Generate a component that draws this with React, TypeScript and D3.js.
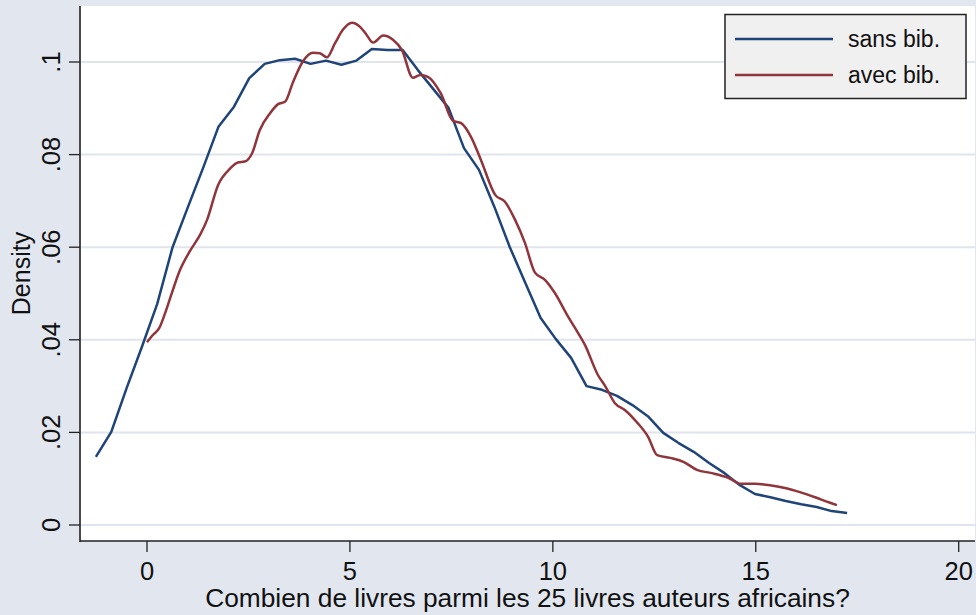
import React, { useEffect, useRef } from 'react';
import * as d3 from 'd3';

// kernel density estimates
const sansX = [-1.26, -0.88, -0.5, -0.12, 0.25, 0.63, 1.01, 1.39, 1.76, 2.14, 2.52, 2.9, 3.27, 3.65, 4.03, 4.41, 4.79,
  5.16, 5.54, 5.92, 6.3, 6.67, 7.05, 7.43, 7.81, 8.18, 8.56, 8.94, 9.32, 9.7, 10.07, 10.45, 10.83, 11.21, 11.58,
  11.96, 12.34, 12.72, 13.1, 13.47, 13.85, 14.23, 14.61, 14.98, 15.36, 15.74, 16.12, 16.5, 16.87, 17.25];
const sansY = [0.0147, 0.0201, 0.0296, 0.0386, 0.0477, 0.06, 0.0687, 0.0773, 0.086, 0.0903, 0.0965, 0.0996, 0.1004,
  0.1007, 0.0996, 0.1003, 0.0994, 0.1003, 0.1028, 0.1026, 0.1026, 0.0983, 0.0942, 0.0901, 0.0814, 0.0767, 0.0687,
  0.06, 0.0523, 0.0447, 0.0402, 0.0361, 0.03, 0.0292, 0.0279, 0.0259, 0.0235, 0.0199, 0.0177, 0.0158, 0.0134,
  0.0112, 0.0086, 0.0067, 0.006, 0.0052, 0.0045, 0.0039, 0.003, 0.0026];

const avecX = [0, 0.15, 0.3, 0.44, 0.62, 0.81, 1.06, 1.31, 1.48, 1.75, 2.05, 2.24, 2.41, 2.59, 2.78, 3.03, 3.23, 3.4,
  3.6, 3.84, 4.09, 4.26, 4.43, 4.63, 4.83, 5.05, 5.25, 5.4, 5.57, 5.82, 6.06, 6.28, 6.55, 6.73, 6.92, 7.24, 7.54,
  7.74, 7.98, 8.23, 8.58, 8.82, 9.07, 9.31, 9.56, 9.81, 10.05, 10.35, 10.55, 10.79, 11.11, 11.29, 11.53, 11.78,
  12.07, 12.35, 12.57, 12.89, 13.23, 13.55, 13.92, 14.32, 14.64, 14.98, 15.35, 15.72, 16.09, 16.46, 16.83, 17.0];
const avecY = [0.0395, 0.0411, 0.0425, 0.0456, 0.0503, 0.055, 0.0592, 0.0627, 0.0659, 0.0734, 0.077, 0.0783, 0.0785,
  0.0803, 0.0853, 0.0889, 0.0909, 0.0914, 0.0957, 0.1001, 0.102, 0.1019, 0.101, 0.104, 0.107, 0.1085, 0.1076,
  0.106, 0.1042, 0.1057, 0.1048, 0.1026, 0.0966, 0.0972, 0.0968, 0.0932, 0.0873, 0.0868, 0.0839, 0.0788, 0.0713,
  0.0698, 0.0659, 0.061, 0.0545, 0.0529, 0.0501, 0.0454, 0.0425, 0.0389, 0.0324, 0.03, 0.0263, 0.0248, 0.0222,
  0.019, 0.0151, 0.0145, 0.0136, 0.0119, 0.0112, 0.0102, 0.0089, 0.0089, 0.0086, 0.008, 0.0071, 0.006, 0.0048,
  0.0043];

const xTicks = [0, 5, 10, 15, 20];
const yTicks = [0, 0.02, 0.04, 0.06, 0.08, 0.1];
const yTickLabels = ['0', '.02', '.04', '.06', '.08', '.1'];
const seriesNames = ['sans bib.', 'avec bib.'];
const seriesColors = ['#1f4478', '#90353b'];
const xTitle = 'Combien de livres parmi les 25 livres auteurs africains?';
const yTitle = 'Density';

const App = () => {
  const ref = useRef<SVGSVGElement>(null);

  useEffect(() => {
    const svg = d3.select(ref.current);
    svg.selectAll('*').remove();

    const width = 976;
    const height = 615;
    const left = 80, right = 975, top = 6, bottom = 541;
    const font = '"Liberation Sans", Arial, Helvetica, sans-serif';

    const x = d3.scaleLinear().domain([0, 20]).range([147, 958.7]);
    const y = d3.scaleLinear().domain([0, 0.1]).range([525, 62]);

    // graph region
    svg.append('rect').attr('width', width).attr('height', height).attr('fill', '#e1e6ef');
    svg.append('rect').attr('x', left).attr('y', top)
      .attr('width', right - left).attr('height', bottom - top).attr('fill', '#ffffff');

    // gridlines
    svg.selectAll('.grid').data(yTicks).enter().append('line')
      .attr('x1', left).attr('x2', right)
      .attr('y1', (d) => y(d)).attr('y2', (d) => y(d))
      .attr('stroke', '#dfe4ee').attr('stroke-width', 2);

    // density curves
    const sans = sansX.map((v, i) => [v, sansY[i]] as [number, number]);
    const avec = avecX.map((v, i) => [v, avecY[i]] as [number, number]);
    const line = d3.line<[number, number]>().x((d) => x(d[0])).y((d) => y(d[1]));

    svg.append('path').attr('d', line(sans))
      .attr('fill', 'none').attr('stroke', seriesColors[0]).attr('stroke-width', 2.5)
      .attr('stroke-linejoin', 'round');
    svg.append('path').attr('d', line.curve(d3.curveMonotoneX)(avec))
      .attr('fill', 'none').attr('stroke', seriesColors[1]).attr('stroke-width', 2.5)
      .attr('stroke-linejoin', 'round');

    // axes
    svg.append('line').attr('x1', left).attr('x2', left).attr('y1', top).attr('y2', bottom + 1)
      .attr('stroke', '#4a4a4a').attr('stroke-width', 2);
    svg.append('line').attr('x1', left).attr('x2', right).attr('y1', bottom).attr('y2', bottom)
      .attr('stroke', '#222').attr('stroke-width', 1.5);

    svg.selectAll('.ytick').data(yTicks).enter().append('line')
      .attr('x1', 69).attr('x2', left)
      .attr('y1', (d) => y(d)).attr('y2', (d) => y(d))
      .attr('stroke', '#222').attr('stroke-width', 1.3);
    svg.selectAll('.ylab').data(yTicks).enter().append('text')
      .attr('transform', (d) => `translate(60, ${y(d)}) rotate(-90)`)
      .attr('text-anchor', 'middle')
      .style('font-family', font).style('font-size', '25.5px').attr('fill', '#111')
      .text((d, i) => yTickLabels[i]);

    svg.selectAll('.xtick').data(xTicks).enter().append('line')
      .attr('x1', (d) => x(d)).attr('x2', (d) => x(d))
      .attr('y1', bottom).attr('y2', 552)
      .attr('stroke', '#222').attr('stroke-width', 1.3);
    svg.selectAll('.xlab').data(xTicks).enter().append('text')
      .attr('x', (d) => x(d)).attr('y', 580)
      .attr('text-anchor', 'middle')
      .style('font-family', font).style('font-size', '25.5px').attr('fill', '#111')
      .text((d) => String(d));

    // axis titles
    svg.append('text').attr('x', (left + right) / 2).attr('y', 607)
      .attr('text-anchor', 'middle')
      .style('font-family', font).style('font-size', '26.3px').attr('fill', '#111')
      .text(xTitle);
    svg.append('text').attr('transform', `translate(30, ${(top + bottom) / 2}) rotate(-90)`)
      .attr('text-anchor', 'middle')
      .style('font-family', font).style('font-size', '25px').attr('fill', '#111')
      .text(yTitle);

    // legend
    const legend = svg.append('g');
    legend.append('rect').attr('x', 725).attr('y', 14.5).attr('width', 241).attr('height', 84)
      .attr('fill', '#f0f0f0').attr('stroke', '#222').attr('stroke-width', 1.5);
    seriesNames.forEach((name, i) => {
      const ly = 39 + i * 36;
      legend.append('line').attr('x1', 735).attr('x2', 833).attr('y1', ly).attr('y2', ly)
        .attr('stroke', seriesColors[i]).attr('stroke-width', 2.5);
      legend.append('text').attr('x', 848).attr('y', ly + 8)
        .style('font-family', font).style('font-size', '23px').attr('fill', '#111')
        .text(name);
    });
  }, []);

  return (
    <svg ref={ref} width="976" height="615" style={{ position: 'absolute', left: 0, top: 0, display: 'block' }}></svg>
  );
};

export default App;
